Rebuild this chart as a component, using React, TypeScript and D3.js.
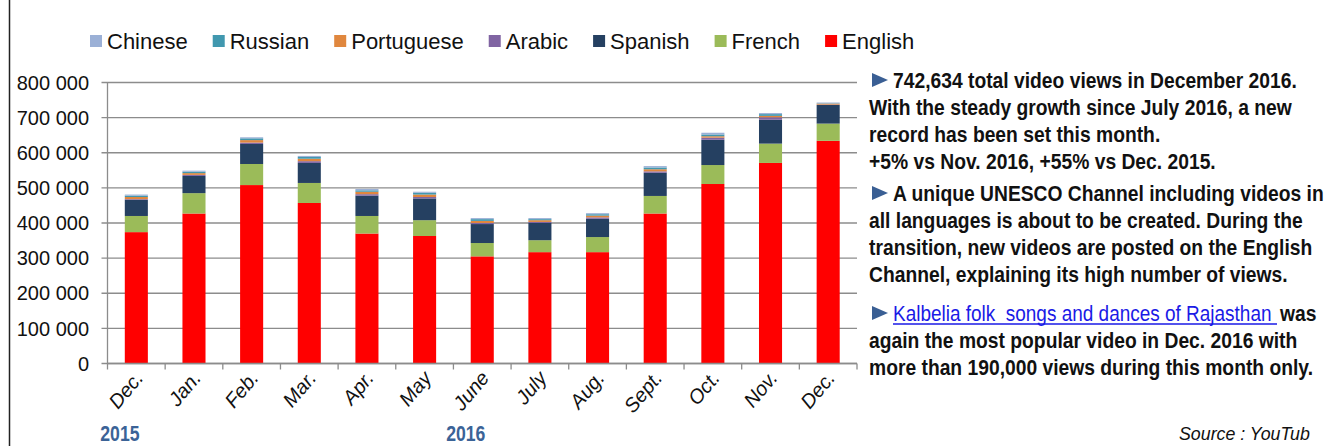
import React, { useEffect, useRef } from 'react';
import * as d3 from 'd3';

// months on the x axis
const months = ['Dec.', 'Jan.', 'Feb.', 'Mar.', 'Apr.', 'May', 'June', 'July', 'Aug.', 'Sept.', 'Oct.', 'Nov.', 'Dec.'];
const years = [{ label: '2015', at: 0 }, { label: '2016', at: 6 }];

// views by language (stack order bottom -> top)
const english = [374000, 427000, 508000, 457000, 370000, 363000, 305000, 317000, 317000, 427000, 511000, 571000, 634000];
const french = [46000, 58000, 60000, 57000, 50000, 45000, 38000, 34000, 43000, 50000, 54000, 55000, 49000];
const spanish = [46000, 49000, 57000, 57000, 58000, 62000, 54000, 49000, 52000, 66000, 72000, 68000, 53000];
const arabic = [2000, 3000, 4000, 5000, 4000, 4000, 3000, 3000, 4000, 4000, 6000, 7000, 1000];
const portuguese = [6000, 5000, 7000, 7000, 7000, 7000, 6000, 5000, 5000, 6000, 4000, 4000, 3000];
const russian = [4000, 4000, 5000, 5000, 4000, 5000, 5000, 3000, 4000, 5000, 5000, 5000, 1000];
const chinese = [3000, 3000, 3000, 3000, 4000, 3000, 3000, 3000, 3000, 4000, 5000, 3000, 2000];

const yTicks = [0, 100000, 200000, 300000, 400000, 500000, 600000, 700000, 800000];

const series = [
  { key: 'English', values: english, color: '#ff0000' },
  { key: 'French', values: french, color: '#9bbb59' },
  { key: 'Spanish', values: spanish, color: '#254061' },
  { key: 'Arabic', values: arabic, color: '#8064a2' },
  { key: 'Portuguese', values: portuguese, color: '#e0873e' },
  { key: 'Russian', values: russian, color: '#4198af' },
  { key: 'Chinese', values: chinese, color: '#9bb0d6' },
];

// commentary on the right
const notes = [
  {
    first: '742,634 total video views in December 2016.',
    rest: ['With the steady growth since July 2016, a new', 'record has been set this month.', '+5% vs Nov. 2016, +55% vs Dec. 2015.'],
  },
  {
    first: 'A unique UNESCO Channel including videos in',
    rest: ['all languages is about to be created. During the', 'transition, new videos are posted on the English', 'Channel, explaining its high number of views.'],
  },
  {
    link: 'Kalbelia folk  songs and dances of Rajasthan ',
    first: 'was',
    rest: ['again the most popular video in Dec. 2016 with', 'more than 190,000 views during this month only.'],
  },
];

const App = () => {
  const svgRef = useRef<SVGSVGElement>(null);

  useEffect(() => {
    const W = 1327;
    const H = 446;
    const svg = d3.select(svgRef.current).attr('width', W).attr('height', H);
    svg.selectAll('*').remove();

    const left = 107.5;
    const right = 857;
    const top = 82.5;
    const bottom = 363.5;
    const sans = 'Liberation Sans, Arial, sans-serif';

    // frame edge on the left
    svg.append('line').attr('x1', 9.5).attr('x2', 9.5).attr('y1', 0).attr('y2', H)
      .attr('stroke', '#222').attr('stroke-width', 1.5);

    const idx = months.map((_, i) => i);
    const x = d3.scaleBand<number>().domain(idx).range([left, right]).paddingInner(0.6).paddingOuter(0.3);
    const step = (right - left) / months.length;
    const y = d3.scaleLinear().domain([0, 800000]).range([bottom, top]);

    // gridlines
    svg.append('g').selectAll('line').data(yTicks).enter().append('line')
      .attr('x1', left - 6).attr('x2', right)
      .attr('y1', d => y(d)).attr('y2', d => y(d))
      .attr('stroke', '#8c8c8c').attr('stroke-width', 1.3);

    // y axis
    svg.append('line').attr('x1', left).attr('x2', left).attr('y1', top).attr('y2', bottom)
      .attr('stroke', '#8c8c8c').attr('stroke-width', 1.3);
    svg.append('g').selectAll('text').data(yTicks).enter().append('text')
      .attr('x', 89).attr('y', d => y(d)).attr('dy', '0.36em')
      .attr('text-anchor', 'end')
      .style('font-family', sans).style('font-size', '20px').attr('fill', '#111')
      .text(d => d3.format(',')(d).replace(/,/g, ' '));

    // stacked bars
    const table = idx.map(i => {
      const row: any = { i };
      series.forEach(s => { row[s.key] = s.values[i]; });
      return row;
    });
    const stacked = d3.stack<any>().keys(series.map(s => s.key))(table);
    svg.append('g').selectAll('g').data(stacked).enter().append('g')
      .attr('fill', (_, k) => series[k].color)
      .selectAll('rect').data(d => d).enter().append('rect')
      .attr('x', d => x(d.data.i)!)
      .attr('width', x.bandwidth())
      .attr('y', d => y(d[1]))
      .attr('height', d => y(d[0]) - y(d[1]));

    // x axis
    svg.append('line').attr('x1', left).attr('x2', right).attr('y1', bottom).attr('y2', bottom)
      .attr('stroke', '#8c8c8c').attr('stroke-width', 1.3);
    svg.append('g').selectAll('line').data(d3.range(months.length + 1)).enter().append('line')
      .attr('x1', d => left + d * step).attr('x2', d => left + d * step)
      .attr('y1', bottom).attr('y2', bottom + 6)
      .attr('stroke', '#8c8c8c').attr('stroke-width', 1.3);
    svg.append('g').selectAll('text').data(idx).enter().append('text')
      .attr('transform', d => `translate(${x(d)! + x.bandwidth() / 2 + 8}, ${bottom + 15}) rotate(-50)`)
      .attr('text-anchor', 'end')
      .style('font-family', sans).style('font-size', '20px').style('font-style', 'italic').attr('fill', '#111')
      .text(d => months[d]);

    // narrow bold text is drawn with a horizontal squeeze
    const squeeze = 0.8;
    svg.append('g').selectAll('text').data(years).enter().append('text')
      .attr('transform', d => `translate(${x(d.at)! + x.bandwidth() / 2 - 36}, 441) scale(${squeeze}, 1)`)
      .style('font-family', sans).style('font-size', '22px').style('font-weight', 'bold')
      .attr('fill', '#3b6397')
      .text(d => d.label);

    // legend
    const legendOrder = [...series].reverse();
    let lx = 90;
    legendOrder.forEach(s => {
      svg.append('rect').attr('x', lx).attr('y', 35).attr('width', 12).attr('height', 12).attr('fill', s.color);
      const t = svg.append('text').attr('x', lx + 17).attr('y', 48.5)
        .style('font-family', sans).style('font-size', '22px').attr('fill', '#111')
        .text(s.key);
      const w = (t.node() as SVGTextElement).getComputedTextLength();
      lx += 17 + w + 25;
    });

    // notes
    const nx = 869;
    const lineH = 27;
    const starts = [88, 201, 321];
    const noteText = (tx: number, ty: number, str: string, fill: string, sc: number, weight = 'bold') =>
      svg.append('text')
        .attr('transform', `translate(${tx}, ${ty}) scale(${sc}, 1)`)
        .style('font-family', sans).style('font-size', '22px').style('font-weight', weight)
        .style('white-space', 'pre').attr('fill', fill).text(str);
    const widthOf = (str: string, weight: string) => {
      const p = noteText(0, -100, str, '#111', 1, weight);
      const w = (p.node() as SVGTextElement).getComputedTextLength();
      p.remove();
      return w;
    };

    // fit the widest line to its width in the reference
    const nScale = 431 / widthOf(notes[1].first, 'bold');

    notes.forEach((n, k) => {
      const base = starts[k];
      svg.append('path')
        .attr('d', `M${nx + 3},${base - 15} L${nx + 19},${base - 8} L${nx + 3},${base - 1} Z`)
        .attr('fill', '#3a5f94');
      let tx = nx + 24;
      if (n.link) {
        const lw = 384;
        const lScale = lw / widthOf(n.link, 'normal');
        noteText(tx, base, n.link, '#1a1ae6', lScale, 'normal');
        svg.append('line').attr('x1', tx).attr('x2', tx + lw).attr('y1', base + 3).attr('y2', base + 3)
          .attr('stroke', '#1a1ae6').attr('stroke-width', 1.3);
        tx += lw + 3;
      }
      noteText(tx, base, n.first, '#111', nScale);
      n.rest.forEach((line, j) => {
        noteText(nx, base + lineH * (j + 1), line, '#111', nScale);
      });
    });

    svg.append('text').attr('x', 1179).attr('y', 440)
      .style('font-family', sans).style('font-size', '17.8px').style('font-style', 'italic').attr('fill', '#111')
      .text('Source : YouTub');
  }, []);

  return <svg ref={svgRef} style={{ position: 'absolute', left: 0, top: 0, display: 'block', background: '#fff' }} />;
};

export default App;
